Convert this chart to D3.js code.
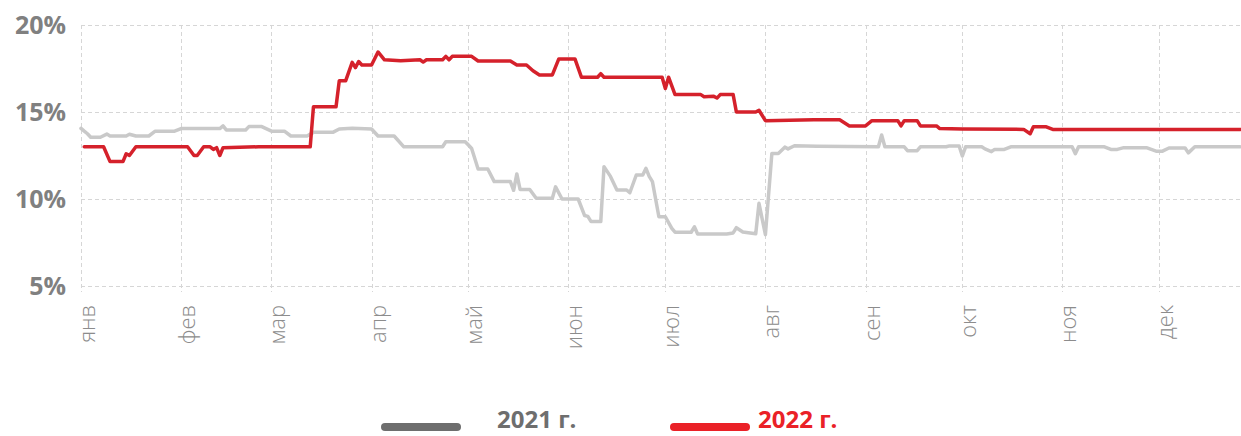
<!DOCTYPE html>
<html>
<head>
<meta charset="utf-8">
<script src="https://cdn.jsdelivr.net/npm/d3@7"></script>
<style>
  body { margin: 0; background: #fff; }
  svg { display: block; }
</style>
</head>
<body>
<div id="chart"></div>
<script>
// month labels + y ticks
var months = ["янв", "фев", "мар", "апр", "май", "июн", "июл", "авг", "сен", "окт", "ноя", "дек"];
var yTicks = [5, 10, 15, 20];
var seriesNames = ["2021 г.", "2022 г."];

// 2021 (grey)
var dates2021 = ["01-01","01-02","01-03","01-04","01-07","01-09","01-10","01-15","01-16","01-18","01-22","01-24","01-30",
  "02-01","02-13","02-14","02-15","02-21","02-22","02-26","03-01","03-05","03-07","03-12","03-14","03-20","03-22","03-26",
  "04-01","04-03","04-08","04-11","04-23","04-24","04-30","05-01","05-02","05-04","05-07","05-09","05-14","05-15","05-16",
  "05-17","05-20","05-22","05-27","05-28","05-30","06-04","06-06","06-07","06-08","06-11","06-12","06-14","06-16","06-19",
  "06-20","06-22","06-24","06-25","06-26","06-27","06-29","07-01","07-03","07-04","07-09","07-10","07-11","07-20","07-22",
  "07-23","07-25","07-29","07-30","08-01","08-03","08-05","08-07","08-08","08-10","08-17","09-05","09-06","09-07","09-13",
  "09-14","09-17","09-18","09-26","09-27","09-30","10-01","10-02","10-07","10-08","10-10","10-11","10-14","10-16","11-04",
  "11-05","11-06","11-14","11-16","11-18","11-20","11-27","11-30","12-02","12-04","12-09","12-10","12-12","12-26"];
var values2021 = [14.06,13.9,13.75,13.55,13.55,13.73,13.62,13.62,13.72,13.62,13.62,13.9,13.9,
  14.05,14.05,14.2,13.97,13.97,14.16,14.16,13.9,13.9,13.62,13.62,13.83,13.83,14.02,14.07,
  14.02,13.62,13.62,13.0,13.0,13.29,13.29,13.1,12.9,11.72,11.72,11.0,11.0,10.5,11.44,
  10.55,10.55,10.04,10.04,10.7,10.0,10.0,9.05,9.0,8.7,8.7,11.86,11.3,10.52,10.52,
  10.36,11.38,11.38,11.76,11.3,11.0,8.98,8.98,8.31,8.09,8.09,8.4,7.99,7.99,8.05,
  8.35,8.1,8.0,9.75,7.95,12.62,12.62,12.98,12.88,13.06,13.03,13.0,13.68,13.0,13.0,
  12.78,12.78,13.0,13.0,13.05,13.05,12.47,13.0,13.0,12.88,12.72,12.85,12.85,13.0,13.0,
  12.6,13.0,13.0,12.85,12.85,12.95,12.95,12.75,12.75,12.93,12.93,12.65,13.0,13.0];

// 2022 (red)
var dates2022 = ["01-02","01-08","01-10","01-14","01-15","01-16","01-18","02-03","02-05","02-06","02-08","02-10","02-11",
  "02-12","02-13","02-14","02-25","03-13","03-14","03-21","03-22","03-24","03-26","03-27","03-28","03-29","04-01","04-03",
  "04-05","04-10","04-16","04-17","04-18","04-23","04-24","04-25","04-26","05-02","05-04","05-14","05-16","05-19","05-21",
  "05-23","05-27","05-29","06-03","06-05","06-10","06-11","06-12","06-30","07-01","07-02","07-04","07-12","07-13","07-16",
  "07-17","07-18","07-22","07-23","07-29","07-30","08-01","08-16","08-24","08-27","09-01","09-03","09-11","09-12","09-13",
  "09-17","09-18","09-23","09-24","10-01","10-20","10-22","10-23","10-27","10-29","12-26"];
var values2022 = [13.0,13.0,12.15,12.15,12.6,12.5,13.0,13.0,12.5,12.5,13.0,13.0,12.85,
  12.95,12.5,12.95,13.0,13.0,15.3,15.3,16.8,16.8,17.85,17.55,17.9,17.7,17.7,18.45,
  18.0,17.95,18.0,17.87,18.0,18.0,18.2,18.0,18.2,18.2,17.93,17.93,17.7,17.7,17.37,
  17.13,17.13,18.05,18.05,17.0,17.0,17.2,17.0,17.0,16.35,17.0,16.0,16.0,15.88,15.9,
  15.8,16.0,16.0,15.0,15.0,15.1,14.5,14.55,14.55,14.2,14.2,14.5,14.5,14.2,14.5,
  14.5,14.2,14.2,14.05,14.03,14.0,13.75,14.15,14.15,14.0,14.0];

var colors = ["#c9c9c9", "#d5212b"];
var legendColors = ["#6e6e6e", "#ea2127"];

var width = 1241, height = 436,
    margin = {top: 25, left: 81, right: 1, bottom: 150};

var parse = d3.timeParse("%m-%d");

var svg = d3.select("#chart")
    .append("svg")
    .attr("width", width)
    .attr("height", height);

var x = d3.scaleTime()
    .domain([parse("01-01"), parse("12-26")])
    .range([margin.left, width - margin.right]);

var y = d3.scaleLinear()
    .domain([5, 20])
    .range([height - margin.bottom, margin.top]);

var monthStarts = d3.timeMonth.range(parse("01-01"), parse("12-26"));

// grid
var grid = svg.append("g").attr("stroke", "#d6d6d6").attr("stroke-width", 1).attr("stroke-dasharray", "4,3");
grid.selectAll(".hgrid").data(yTicks).enter().append("line")
    .attr("x1", margin.left).attr("x2", width)
    .attr("y1", function(d){ return Math.round(y(d)) + 0.5; })
    .attr("y2", function(d){ return Math.round(y(d)) + 0.5; });
grid.selectAll(".vgrid").data(monthStarts).enter().append("line")
    .attr("x1", function(d){ return Math.round(x(d)) + 0.5; })
    .attr("x2", function(d){ return Math.round(x(d)) + 0.5; })
    .attr("y1", margin.top).attr("y2", height - margin.bottom + 6);

// y axis labels
svg.append("g").selectAll("text").data(yTicks).enter().append("text")
    .attr("x", 66)
    .attr("y", function(d){ return y(d); })
    .attr("dy", "0.36em")
    .attr("text-anchor", "end")
    .attr("font-family", "'Open Sans', sans-serif")
    .attr("font-weight", 700)
    .attr("font-size", 25)
    .attr("fill", "#808080")
    .text(function(d){ return d + "%"; });

// x axis labels (rotated)
svg.append("g").selectAll("text").data(monthStarts).enter().append("text")
    .attr("transform", function(d){ return "translate(" + (x(d) + 14) + "," + 305 + ") rotate(-90)"; })
    .attr("text-anchor", "end")
    .attr("font-family", "'Open Sans', sans-serif")
    .attr("font-weight", 300)
    .attr("font-size", 22)
    .attr("fill", "#8c8c8c")
    .text(function(d, i){ return months[i]; });

var line = d3.line()
    .x(function(d){ return x(d.date); })
    .y(function(d){ return y(d.value); });

var series = [
  dates2021.map(function(d, i){ return {date: parse(d), value: values2021[i]}; }),
  dates2022.map(function(d, i){ return {date: parse(d), value: values2022[i]}; })
];

svg.selectAll(".series").data(series).enter().append("path")
    .attr("class", "series")
    .attr("d", line)
    .attr("fill", "none")
    .attr("stroke", function(d, i){ return colors[i]; })
    .attr("stroke-width", 3.5)
    .attr("stroke-linejoin", "round")
    .attr("stroke-linecap", "round");

// legend
var legendX = [385, 674];
var legend = svg.selectAll(".legend").data(seriesNames).enter().append("g")
    .attr("class", "legend")
    .attr("transform", function(d, i){ return "translate(" + legendX[i] + ",427)"; });
legend.append("line")
    .attr("x1", 0).attr("x2", 72)
    .attr("stroke", function(d, i){ return legendColors[i]; })
    .attr("stroke-width", 8)
    .attr("stroke-linecap", "round");
legend.append("text")
    .attr("x", function(d, i){ return i ? 84 : 112; })
    .attr("y", 1)
    .attr("font-family", "'Open Sans', sans-serif")
    .attr("font-weight", 700)
    .attr("font-size", 24)
    .attr("fill", function(d, i){ return legendColors[i]; })
    .text(function(d){ return d; });
</script>
</body>
</html>
